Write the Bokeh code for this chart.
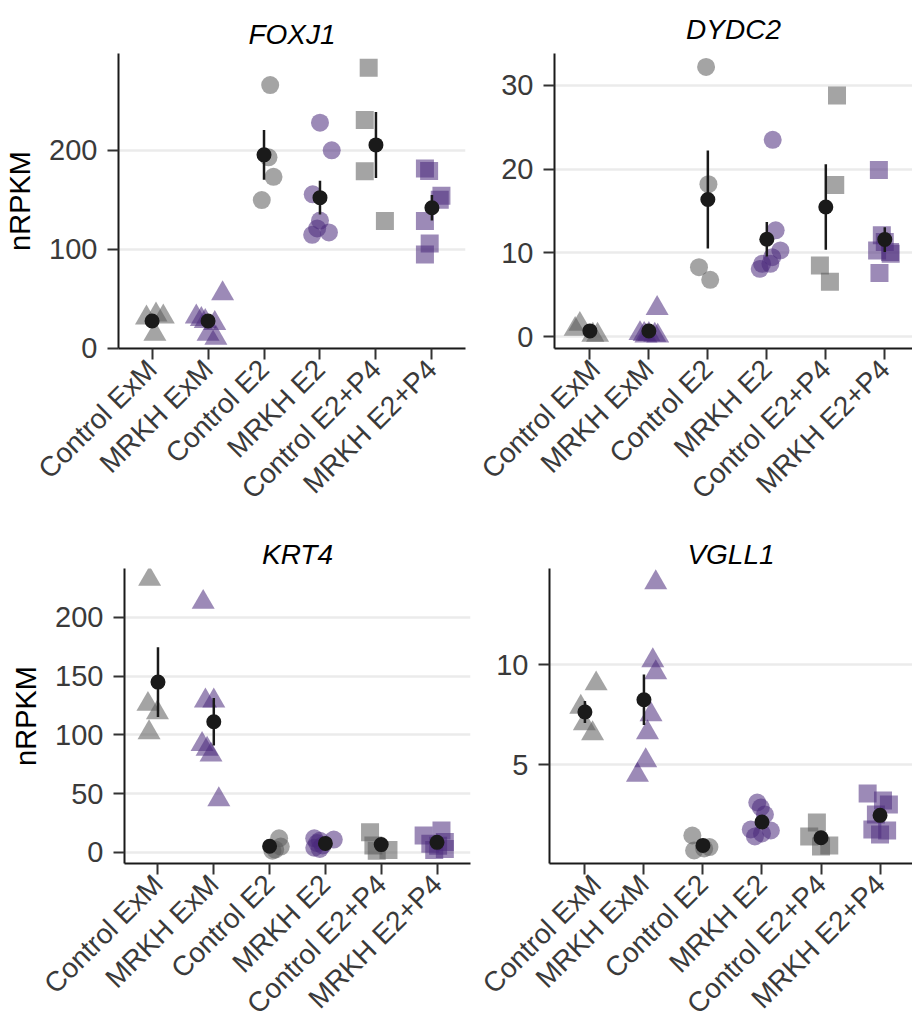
import math
import numpy as np
from bokeh.plotting import figure
from bokeh.layouts import column, row
from bokeh.models import FixedTicker, Range1d
from bokeh.embed import file_html
from bokeh.resources import INLINE

# ---------------- data ----------------
groups = ["Control ExM", "MRKH ExM", "Control E2", "MRKH E2", "Control E2+P4", "MRKH E2+P4"]

foxj1_values = {
    "Control ExM": [30.5, 33.5, 31.5, 14],
    "MRKH ExM": [55, 31.5, 29, 27, 25, 14, 10],
    "Control E2": [266, 193, 173.2, 149.7],
    "MRKH E2": [228, 200, 155.5, 129, 121, 114.5, 117],
    "Control E2+P4": [283.7, 230.8, 178.9, 128.6],
    "MRKH E2+P4": [181.6, 179, 154, 150, 128.6, 105.8, 94.5],
}
foxj1_jitter = {
    "Control ExM": [-0.1, 0.07, 0.2, 0.05],
    "MRKH ExM": [0.26, -0.21, -0.12, -0.05, 0.12, 0.0, 0.14],
    "Control E2": [0.11, 0.08, 0.17, -0.04],
    "MRKH E2": [0.0, 0.21, -0.13, 0.0, -0.05, -0.14, 0.16],
    "Control E2+P4": [-0.13, -0.2, -0.2, 0.16],
    "MRKH E2+P4": [-0.125, -0.05, 0.17, 0.14, -0.125, -0.04, -0.125],
}

dydc2_values = {
    "Control ExM": [1.5, 0.9, 0.2, 0.2],
    "MRKH ExM": [3.4, 0.4, 0.3, 0.3, 0.2, 0.1, 0.1],
    "Control E2": [32.2, 18.2, 8.3, 6.8],
    "MRKH E2": [23.5, 12.7, 10.3, 9.5, 8.7, 8.1, 8.7],
    "Control E2+P4": [28.8, 18.1, 8.5, 6.55],
    "MRKH E2+P4": [19.9, 12.1, 11.3, 10.3, 10.1, 9.9, 7.6],
}
dydc2_jitter = {
    "Control ExM": [-0.17, -0.25, 0.13, 0.05],
    "MRKH ExM": [0.14, -0.15, -0.08, 0.0, 0.1, 0.15, -0.05],
    "Control E2": [-0.03, 0.01, -0.15, 0.04],
    "MRKH E2": [0.1, 0.15, 0.23, 0.09, 0.06, -0.12, -0.08],
    "Control E2+P4": [0.19, 0.16, -0.1, 0.07],
    "MRKH E2+P4": [-0.1, -0.05, 0.0, -0.13, 0.09, 0.1, -0.09],
}

krt4_values = {
    "Control ExM": [232.6, 126.2, 119.1, 102.1],
    "MRKH ExM": [213, 129, 129, 92, 88, 83, 45],
    "Control E2": [12, 5, 2.5, 1.5],
    "MRKH E2": [12, 11, 10, 8, 6, 4, 3],
    "Control E2+P4": [17.3, 6, 2, 1.5],
    "MRKH E2+P4": [18.7, 14.5, 9, 7.4, 5.7, 3, 2],
}
krt4_jitter = {
    "Control ExM": [-0.15, -0.18, -0.01, -0.16],
    "MRKH ExM": [-0.19, -0.15, 0.0, -0.21, -0.12, -0.05, 0.09],
    "Control E2": [0.17, 0.2, 0.1, 0.05],
    "MRKH E2": [-0.2, 0.15, -0.1, -0.15, -0.05, -0.2, -0.1],
    "Control E2+P4": [-0.2, -0.14, 0.13, -0.08],
    "MRKH E2+P4": [0.08, -0.24, 0.14, -0.12, 0.02, 0.14, -0.05],
}

vgll1_values = {
    "Control ExM": [9.04, 7.87, 7.04, 6.55],
    "MRKH ExM": [14.1, 10.2, 9.6, 7.5, 6.6, 5.2, 4.47],
    "Control E2": [1.45, 0.7, 0.87, 0.8],
    "MRKH E2": [3.1, 2.85, 2.5, 1.75, 1.7, 1.55, 1.4],
    "Control E2+P4": [2.1, 1.4, 0.95, 0.9],
    "MRKH E2+P4": [3.55, 3.2, 3.0, 2.5, 1.75, 1.7, 1.5],
}
vgll1_jitter = {
    "Control ExM": [0.19, -0.07, -0.01, 0.13],
    "MRKH ExM": [0.2, 0.15, 0.2, 0.12, 0.06, 0.03, -0.11],
    "Control E2": [-0.18, -0.15, 0.11, 0.02],
    "MRKH E2": [-0.08, -0.02, 0.05, -0.19, 0.15, 0.0, -0.12],
    "Control E2+P4": [-0.07, -0.2, 0.14, 0.0],
    "MRKH E2+P4": [-0.21, 0.05, 0.15, -0.07, -0.13, 0.12, 0.0],
}

foxj1_ticks = [0, 100, 200]
dydc2_ticks = [0, 10, 20, 30]
krt4_ticks = [0, 50, 100, 150, 200]
vgll1_ticks = [5, 10]

# ---------------- style ----------------
FONT = "Liberation Sans"
GREY = "#5a5a5a"
PURPLE = "#4b2a7b"
ALPHA = 0.55


def style_for(group):
    color = GREY if group.startswith("Control") else PURPLE
    if group.endswith("ExM"):
        return color, "triangle", 23
    if group.endswith("E2+P4"):
        return color, "square", 18
    return color, "circle", 18


def make_panel(title, values, jitter, yticks, yr, xr, width, height,
               bl, br, bt, bb, title_standoff, ylabel=None):
    p = figure(width=width, height=height, output_backend="svg",
               toolbar_location=None, x_range=Range1d(*xr), y_range=Range1d(*yr),
               min_border_left=bl, min_border_right=br,
               min_border_top=bt, min_border_bottom=bb,
               background_fill_color="white", border_fill_color="white")
    p.outline_line_color = None
    p.xgrid.visible = False
    p.ygrid.grid_line_color = "#EBEBEB"
    p.ygrid.grid_line_width = 2.5

    p.title.text = title
    p.title.text_font = FONT
    p.title.text_font_style = "italic"
    p.title.text_font_size = "28px"
    p.title.align = "center"
    p.title.text_color = "black"
    p.title.standoff = title_standoff

    cats = list(range(1, len(groups) + 1))
    p.xaxis.ticker = FixedTicker(ticks=cats)
    p.xaxis.major_label_overrides = {c: g for c, g in zip(cats, groups)}
    p.xaxis.major_label_orientation = math.pi / 4
    p.yaxis.ticker = FixedTicker(ticks=yticks)
    for ax in (p.xaxis[0], p.yaxis[0]):
        ax.axis_line_color = "#1a1a1a"
        ax.axis_line_width = 2
        ax.major_tick_line_color = "#333333"
        ax.major_tick_line_width = 2
        ax.major_tick_out = 11
        ax.major_tick_in = 0
        ax.minor_tick_out = 0
        ax.minor_tick_in = 0
        ax.major_label_text_font = FONT
        ax.major_label_text_color = "#3a3a3a"
    p.xaxis.major_label_text_font_size = "28px"
    p.xaxis.major_label_standoff = 5
    p.yaxis.major_label_text_font_size = "29px"
    p.yaxis.major_label_standoff = 10
    if ylabel:
        p.yaxis.axis_label = ylabel
        p.yaxis.axis_label_text_font = FONT
        p.yaxis.axis_label_text_font_style = "normal"
        p.yaxis.axis_label_text_font_size = "29px"
        p.yaxis.axis_label_text_color = "black"
        p.yaxis.axis_label_standoff = 10

    for i, g in enumerate(groups):
        color, marker, size = style_for(g)
        xs = [i + 1 + j for j in jitter[g]]
        p.scatter(xs, values[g], marker=marker, size=size, fill_color=color,
                  fill_alpha=ALPHA, line_color=None)

    means = np.array([np.mean(values[g]) for g in groups])
    sems = np.array([np.std(values[g], ddof=1) / np.sqrt(len(values[g])) for g in groups])
    p.segment(x0=cats, y0=means - sems, x1=cats, y1=means + sems,
              line_color="#1a1a1a", line_width=2.5)
    p.scatter(cats, means, marker="circle", size=15, fill_color="#1a1a1a",
              line_color=None)
    return p


p1 = make_panel("FOXJ1", foxj1_values, foxj1_jitter, foxj1_ticks, (-0.5, 298), (0.4, 6.6),
                475, 528, 118, 10, 52, 180, 7, ylabel="nRPKM")
p2 = make_panel("DYDC2", dydc2_values, dydc2_jitter, dydc2_ticks, (-1.4, 33.8), (0.4, 6.47),
                437, 528, 79, 0, 53, 180, 18)
p3 = make_panel("KRT4", krt4_values, krt4_jitter, krt4_ticks, (-9.4, 241.7), (0.4, 6.6),
                476, 507, 124, 6, 40, 172, -3, ylabel="nRPKM")
p4 = make_panel("VGLL1", vgll1_values, vgll1_jitter, vgll1_ticks, (0.05, 14.8), (0.4, 6.55),
                436, 507, 73, 0, 40, 172, -3)

layout = column(row(p1, p2), row(p3, p4))
open("out.html", "w").write(file_html(layout, INLINE))
